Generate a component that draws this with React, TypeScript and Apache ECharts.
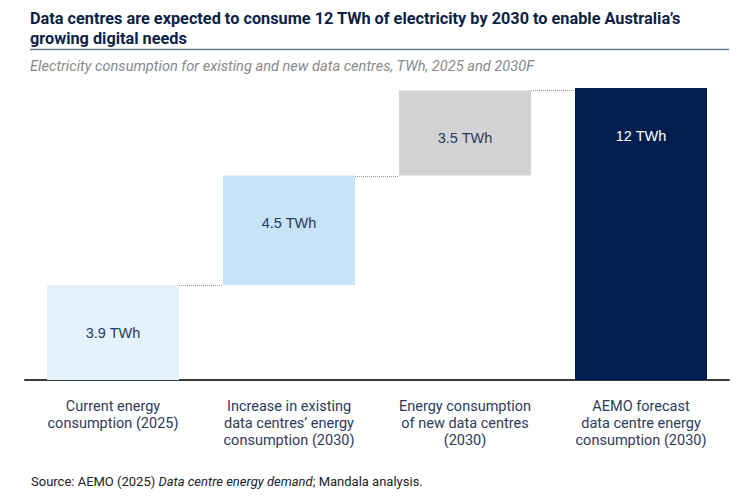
import React, { useEffect, useRef } from "react";
import * as echarts from "echarts";

// Waterfall of data-centre electricity use (TWh)
const categories = [
  "Current energy\nconsumption (2025)",
  "Increase in existing\ndata centres’ energy\nconsumption (2030)",
  "Energy consumption\nof new data centres\n(2030)",
  "AEMO forecast\ndata centre energy\nconsumption (2030)",
];
const stepValues = [3.9, 4.5, 3.5];
const totalValue = 12;
const unit = "TWh";

const titleText =
  "Data centres are expected to consume 12 TWh of electricity by 2030 to enable Australia’s\ngrowing digital needs";
const subtitleText =
  "Electricity consumption for existing and new data centres, TWh, 2025 and 2030F";

const barColors = ["#e4f2fc", "#c6e3f7", "#d3d3d5", "#001e4e"];
const labelColors = ["#2a3a5c", "#2a3a5c", "#2a3a5c", "#ffffff"];

export default function App() {
  const ref = useRef<HTMLDivElement>(null);

  useEffect(() => {
    if (!ref.current) return;
    const chart = echarts.init(ref.current, null, { renderer: "svg" });

    // invisible offsets and visible heights for each column
    const bases: number[] = [];
    const heights: number[] = [];
    let running = 0;
    stepValues.forEach((v) => {
      bases.push(running);
      heights.push(v);
      running += v;
    });
    bases.push(0);
    heights.push(totalValue);

    // dotted connectors sit at the top of each column, leading to the next
    const connectorData = heights
      .slice(0, -1)
      .map((h, i) => [i, bases[i] + h]);

    const font = "Roboto";

    chart.setOption({
      animation: false,
      title: [
        {
          text: titleText,
          left: 30,
          top: 8,
          padding: 0,
          textStyle: {
            fontFamily: font,
            fontWeight: "bold",
            fontSize: 16.3,
            lineHeight: 20,
            color: "#0d1f45",
          },
        },
        {
          text: subtitleText,
          left: 30,
          top: 58,
          padding: 0,
          textStyle: {
            fontFamily: font,
            fontStyle: "italic",
            fontWeight: "normal",
            fontSize: 14.6,
            color: "#8a8a8a",
          },
        },
        {
          text: "Source: AEMO (2025) {i|Data centre energy demand}; Mandala analysis.",
          left: 31,
          top: 475,
          padding: 0,
          textStyle: {
            fontFamily: font,
            fontWeight: "normal",
            fontSize: 13,
            color: "#222222",
            rich: {
              i: {
                fontFamily: font,
                fontStyle: "italic",
                fontSize: 13,
                color: "#222222",
              },
            },
          },
        },
      ],
      graphic: [
        {
          type: "line",
          shape: { x1: 30, y1: 49.5, x2: 729, y2: 49.5 },
          style: { stroke: "#6b7894", lineWidth: 1.5 },
        },
      ],
      grid: { left: 25, right: 23, top: 88, bottom: 116, containLabel: false },
      xAxis: {
        type: "category",
        data: categories,
        axisTick: { show: false },
        axisLine: { lineStyle: { color: "#3a3a3a", width: 2 } },
        axisLabel: {
          interval: 0,
          margin: 18,
          fontFamily: font,
          fontSize: 14.5,
          lineHeight: 17,
          color: "#2e3a5a",
        },
      },
      yAxis: {
        type: "value",
        min: 0,
        max: totalValue,
        show: false,
        splitLine: { show: false },
      },
      series: [
        {
          name: "base",
          type: "bar",
          stack: "w",
          data: bases,
          itemStyle: { color: "transparent" },
          barCategoryGap: "25%",
          silent: true,
        },
        {
          name: "value",
          type: "bar",
          stack: "w",
          barCategoryGap: "25%",
          data: heights.map((h, i) => ({
            value: h,
            itemStyle: { color: barColors[i] },
            label: { color: labelColors[i] },
          })),
          label: {
            show: true,
            position: "insideTop",
            distance: 40,
            fontFamily: "Liberation Sans",
            fontSize: 14.5,
            formatter: (p: any) => `${p.value} ${unit}`,
          },
        },
        {
          name: "connector",
          type: "custom",
          data: connectorData,
          silent: true,
          z: 1,
          renderItem: (params: any, api: any) => {
            const idx = api.value(0);
            const level = api.value(1);
            const p = api.coord([idx, level]);
            const band = api.size([1, 0])[0];
            const half = (band * 0.75) / 2;
            return {
              type: "line",
              shape: {
                x1: p[0] + half,
                y1: Math.round(p[1]) + 0.5,
                x2: p[0] + band - half,
                y2: Math.round(p[1]) + 0.5,
              },
              style: { stroke: "#9a9a9a", lineWidth: 1, lineDash: [1, 1] },
            };
          },
        },
      ],
    });

    return () => chart.dispose();
  }, []);

  return (
    <div
      ref={ref}
      style={{ position: "fixed", left: 0, top: 0, width: 752, height: 496, background: "#fff" }}
    />
  );
}
